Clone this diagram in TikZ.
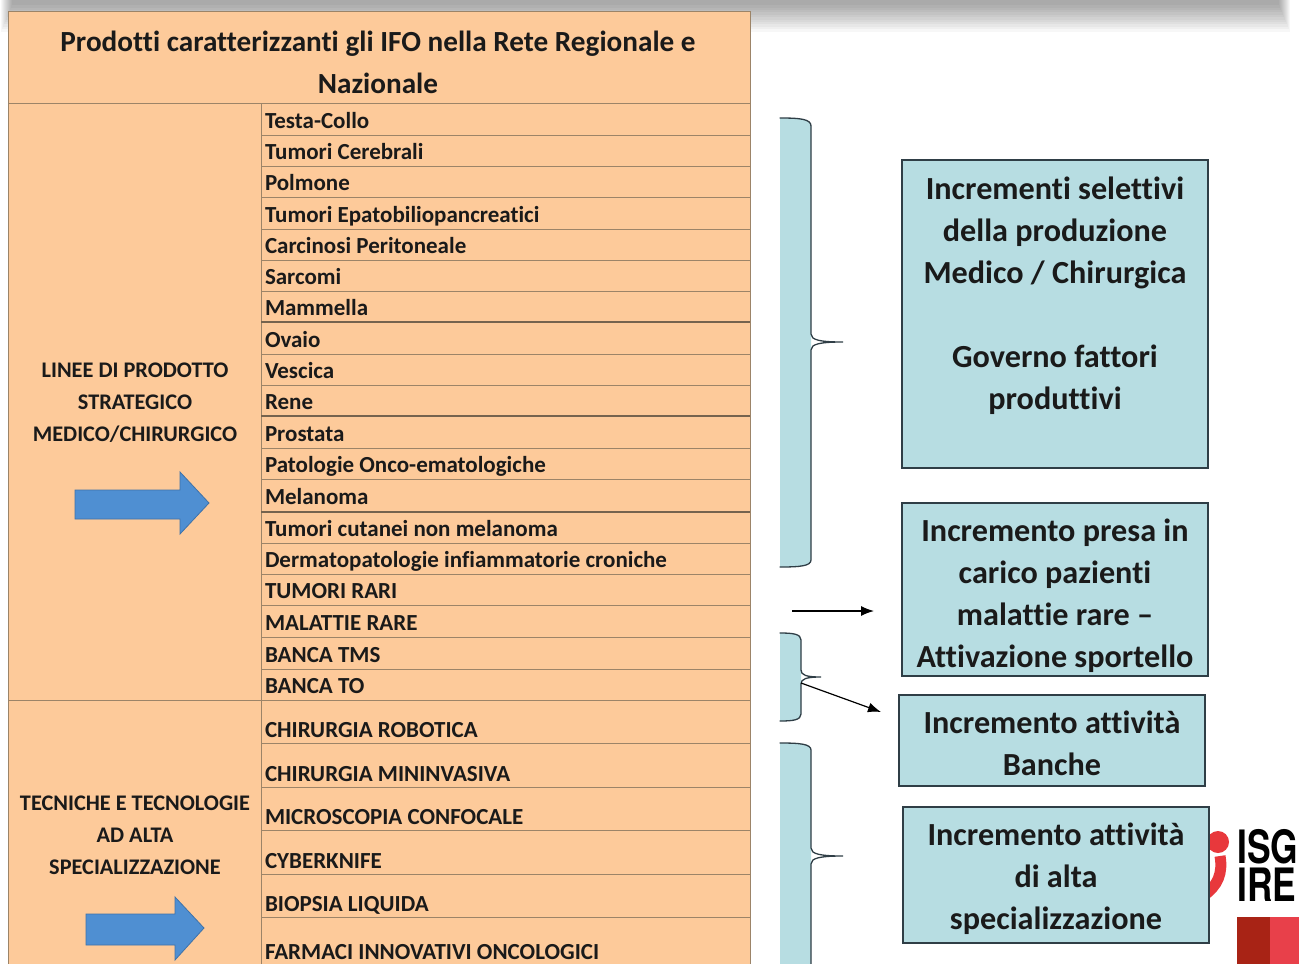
\documentclass[tikz,border=0pt]{standalone}
\usepackage{fontspec}
\setmainfont{Carlito}[Ligatures=NoCommon]
\newfontfamily\logofont[FakeStretch=0.77]{TeX Gyre Heros}
\usetikzlibrary{arrows.meta,calc}
\definecolor{cellfill}{HTML}{FDCA9A}
\definecolor{cellline}{HTML}{9C8468}
\definecolor{boxfill}{HTML}{B7DDE2}
\definecolor{boxline}{HTML}{2F3E46}
\definecolor{blockblue}{HTML}{4F8FD2}
\definecolor{inkc}{HTML}{1A1A1A}
\definecolor{logored}{HTML}{E8383C}
\definecolor{logodark}{HTML}{A82315}
\definecolor{logolight}{HTML}{E8404A}
\tikzset{
  x=1pt,y=-1pt,
  cellbox/.style={draw=cellline,line width=1pt,fill=cellfill,rectangle,inner sep=0pt,anchor=north west,outer sep=0pt},
  rowcell/.style={cellbox,minimum width=489pt,align=left,text=inkc,font=\fontsize{23}{23}\selectfont\bfseries,text width=485pt,text height=23pt,text depth=5pt},
  lowcell/.style={rowcell,text height=37pt},
  lastcell/.style={rowcell,text height=19pt},
  headtext/.style={font=\fontsize{29.2}{42}\selectfont\bfseries,text=inkc,align=center},
  sidetext/.style={font=\fontsize{22.3}{32}\selectfont\bfseries,text=inkc,align=center},
  tealbox/.style={draw=boxline,line width=1.1pt,fill=boxfill,rectangle,anchor=north west,inner sep=0pt,outer sep=0pt},
  tealtext/.style={align=center,text=inkc,font=\fontsize{32.2}{42}\selectfont\bfseries},
  bracefill/.style={fill=boxfill,draw=none},
  braceline/.style={draw=boxline,line width=1.3pt,line cap=round},
  blockarrow/.style={fill=blockblue,draw=blockblue!80!black,line width=.8pt},
  thinarrow/.style={draw=black,line width=1.2pt,-{Latex[length=13pt,width=10pt]}},
  logotext/.style={anchor=west,inner sep=0pt,font=\fontsize{46}{46}\logofont\bfseries,text=black,text height=33pt,text depth=0pt},
  strongrule/.style={draw=cellline!75!black,line width=1.5pt},
}
\newcommand{\rowc}[5][rowcell]{% style, name, top, height, text
  \node[#1,minimum height=#4pt] (#2) at (261,#3) {\spaceskip=0pt\relax\hspace*{2pt}#5};}
\begin{document}
\begin{tikzpicture}
\useasboundingbox (0,0) rectangle (1299,964);
\clip (0,0) rectangle (1299,964);
\fill[white] (0,0) rectangle (1299,964);
% top shadow
\foreach \i in {1,...,12} {
  \fill[black,opacity=.03] (\i,-5) rectangle ({1291-\i},{34-2.4*\i});
}

% header
\node[cellbox,minimum width=742pt,minimum height=92pt] (title) at (8,11) {};
\node[headtext] (titletxt) at (378,62) {Prodotti caratterizzanti gli IFO nella Rete Regionale e\\Nazionale};
% left cells
\node[cellbox,minimum width=253pt,minimum height=597pt] (left1) at (8,103) {};
\node[cellbox,minimum width=253pt,minimum height=300pt] (left2) at (8,700) {};
\node[sidetext] (l1txt) at (135,403) {LINEE DI PRODOTTO\\STRATEGICO\\MEDICO/CHIRURGICO};
\node[sidetext] (l2txt) at (135,835) {TECNICHE E TECNOLOGIE\\AD ALTA\\SPECIALIZZAZIONE};
% rows
\rowc{r1}{103}{32}{Testa-Collo}
\rowc{r2}{135}{31}{Tumori Cerebrali}
\rowc{r3}{166}{31}{Polmone}
\rowc{r4}{197}{32}{Tumori Epatobiliopancreatici}
\rowc{r5}{229}{31}{Carcinosi Peritoneale}
\rowc{r6}{260}{31}{Sarcomi}
\rowc{r7}{291}{31}{Mammella}
\rowc{r8}{322}{32}{Ovaio}
\rowc{r9}{354}{31}{Vescica}
\rowc{r10}{385}{31}{Rene}
\rowc{r11}{416}{32}{Prostata}
\rowc{r12}{448}{31}{Patologie Onco-ematologiche}
\rowc{r13}{479}{33}{Melanoma}
\rowc{r14}{512}{31}{Tumori cutanei non melanoma}
\rowc{r15}{543}{31}{Dermatopatologie infiammatorie croniche}
\rowc{r16}{574}{31}{TUMORI RARI}
\rowc{r17}{605}{32}{MALATTIE RARE}
\rowc{r18}{637}{32}{BANCA TMS}
\rowc{r19}{669}{31}{BANCA TO}
\rowc[lowcell]{r20}{700}{43}{CHIRURGIA ROBOTICA}
\rowc[lowcell]{r21}{743}{44}{CHIRURGIA MININVASIVA}
\rowc[lowcell]{r22}{787}{43}{MICROSCOPIA CONFOCALE}
\rowc[lowcell]{r23}{830}{44}{CYBERKNIFE}
\rowc[lowcell]{r24}{874}{43}{BIOPSIA LIQUIDA}
\rowc[lastcell]{r25}{917}{70}{FARMACI INNOVATIVI ONCOLOGICI}
\draw[strongrule] (r8.north west) -- (r8.north east);
\draw[strongrule] (r11.north west) -- (r11.north east);
\draw[strongrule] (r14.north west) -- (r14.north east);
% block arrows
\draw[blockarrow] (75,490) -- (180,490) -- (180,472) -- (209,503) -- (180,534) -- (180,519) -- (75,519) -- cycle;
\draw[blockarrow] (86,914) -- (175,914) -- (175,897) -- (204,928) -- (175,960) -- (175,945) -- (86,945) -- cycle;

% braces
\fill[bracefill] (780,118) .. controls (800,118) and (811,119) .. (811,126) -- (811,560) .. controls (811,566) and (800,567) .. (780,567) -- cycle;
\draw[braceline] (780,118) .. controls (800,118) and (811,119) .. (811,126) -- (811,334) .. controls (811,340) and (820,342) .. (843,342) .. controls (820,342) and (811,344) .. (811,350) -- (811,560) .. controls (811,566) and (800,567) .. (780,567);
\fill[bracefill] (780,633) .. controls (793,633) and (801,634) .. (801,640) -- (801,714) .. controls (801,720) and (793,721) .. (780,721) -- cycle;
\draw[braceline] (780,633) .. controls (793,633) and (801,634) .. (801,640) -- (801,670) .. controls (801,675) and (806,677) .. (821,677) .. controls (806,677) and (801,679) .. (801,684) -- (801,714) .. controls (801,720) and (793,721) .. (780,721);
\fill[bracefill] (780,743) .. controls (800,743) and (811,744) .. (811,750) -- (811,970) -- (780,970) -- cycle;
\draw[braceline] (780,743) .. controls (800,743) and (811,744) .. (811,750) -- (811,848) .. controls (811,854) and (820,856) .. (843,856) .. controls (820,856) and (811,858) .. (811,864) -- (811,970);

% logo (behind boxes)
\fill[logored] (1218,842) circle (11);
\draw[logored,line width=11pt] (1220,856) .. controls (1223,873) and (1218,886) .. (1203,896);
\node[logotext] (logoa) at (1237,847) {ISG};
\node[logotext] (logob) at (1237,885) {IRE};
\fill[logodark] (1237,917) rectangle (1270,964);
\fill[logolight] (1270,917) rectangle (1299,964);

% boxes
\node[tealbox,minimum width=306pt,minimum height=308pt] (b1) at (902,160) {};
\node[tealtext] (b1t) at (1055,296) {Incrementi selettivi\\della produzione\\Medico / Chirurgica\\[42pt]Governo fattori\\produttivi};
\node[tealbox,minimum width=306pt,minimum height=173pt] (b2) at (902,503) {};
\node[tealtext] (b2t) at (1055,596) {Incremento presa in\\carico pazienti\\malattie rare --\\Attivazione sportello};
\node[tealbox,minimum width=306pt,minimum height=91pt] (b3) at (899,695) {};
\node[tealtext] (b3t) at (1052,743) {Incremento attività\\Banche};
\node[tealbox,minimum width=306pt,minimum height=136pt] (b4) at (903,807) {};
\node[tealtext] (b4t) at (1056,879) {Incremento attività\\di alta\\specializzazione};

% connectors
\coordinate (a1s) at (792,611);
\coordinate (a1e) at (874,611);
\coordinate (a2s) at (801,683);
\coordinate (a2e) at (881,712);
\draw[thinarrow] (a1s) -- (a1e);
\draw[thinarrow] (a2s) -- (a2e);
\end{tikzpicture}
\end{document}
